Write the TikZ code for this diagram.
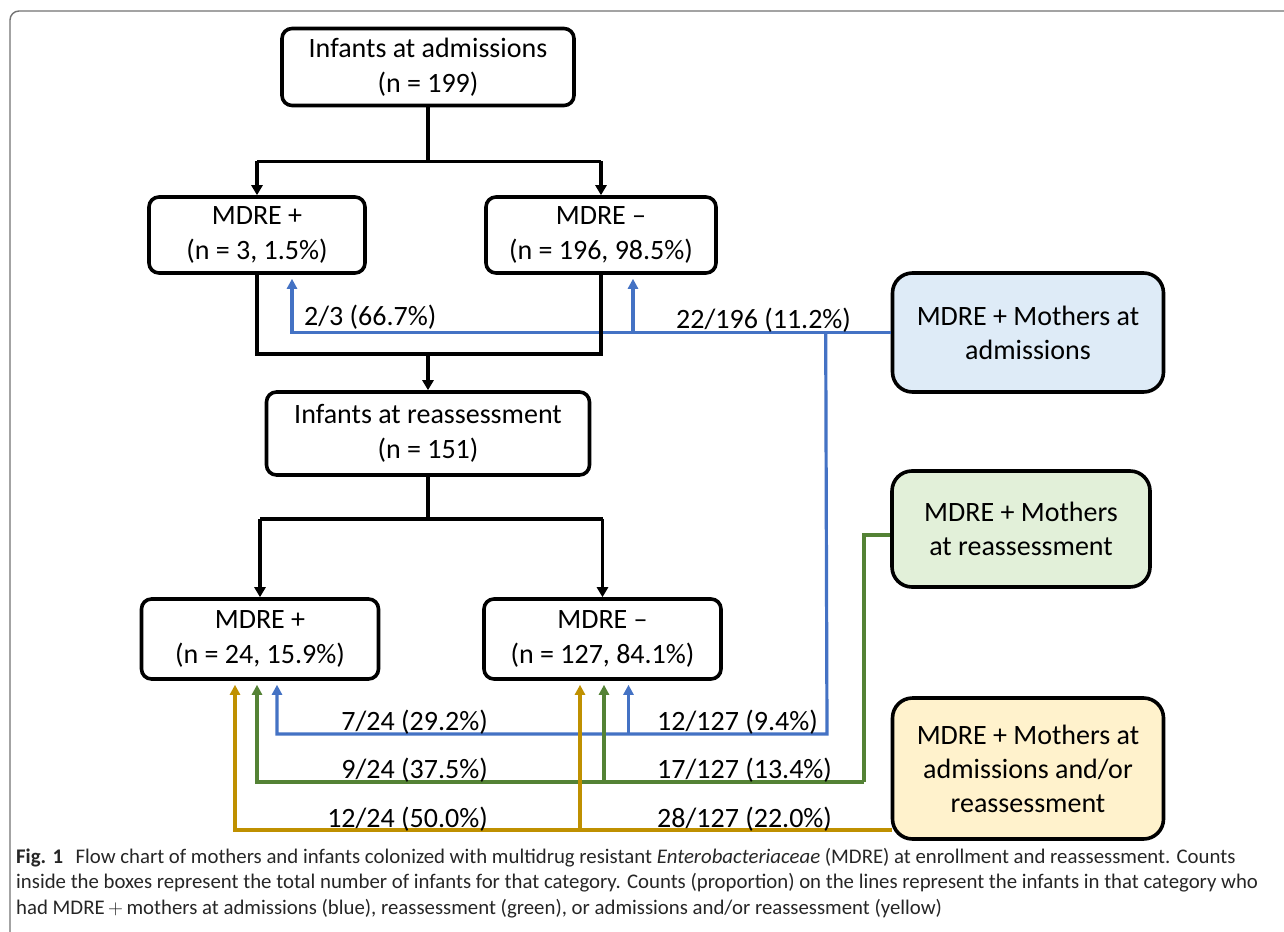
\documentclass[tikz,border=0pt]{standalone}
\usepackage{fontspec}
\setmainfont{Carlito}
\usetikzlibrary{arrows.meta, positioning}
\definecolor{admblue}{HTML}{4472C4}
\definecolor{reagreen}{HTML}{548235}
\definecolor{eithergold}{HTML}{BF9000}
\definecolor{admfill}{HTML}{DEEBF7}
\definecolor{reafill}{HTML}{E2F0D9}
\definecolor{eitherfill}{HTML}{FFF2CC}
\tikzstyle{infbox} = [rectangle, rounded corners=10pt, draw=black, line width=3.6pt, inner sep=0pt, align=center, text centered, font=\fontsize{28}{34.5}\selectfont]
\tikzstyle{mombox} = [rectangle, rounded corners=20pt, draw=black, line width=3.6pt, inner sep=0pt, align=center, text centered, font=\fontsize{28}{34}\selectfont]
\tikzstyle{conn} = [line width=3.6pt]
\tikzstyle{arrow} = [line width=3.6pt, -{Triangle[width=11pt,length=10pt]}]
\tikzstyle{carrow} = [line width=3.2pt, -{Triangle[width=10pt,length=10pt]}, shorten >=4pt]
\tikzstyle{cline} = [line width=3.2pt]
\tikzstyle{lbl} = [inner sep=0pt, font=\fontsize{28}{34}\selectfont]

\begin{document}
\begin{tikzpicture}[x=1pt, y=-1pt]
\useasboundingbox (0,0) rectangle (1284,931);
\clip (0,0) rectangle (1284,931);
\fill[white] (0,0) rectangle (1284,931);
\draw[black!55, line width=1.4pt, rounded corners=9pt] (10,11) rectangle (1320,970);

% Infant boxes
\node (adm) [infbox, minimum width=292pt, minimum height=77pt] at (428,67) {Infants at admissions\\(n = 199)};
\node (pos1) [infbox, minimum width=216pt, minimum height=76pt] at (257,235) {MDRE +\\(n = 3, 1.5\%)};
\node (neg1) [infbox, minimum width=230pt, minimum height=76pt] at (601,235) {MDRE --\\(n = 196, 98.5\%)};
\node (reass) [infbox, minimum width=323pt, minimum height=83pt] at (428,433.5) {Infants at reassessment\\(n = 151)};
\node (pos2) [infbox, minimum width=237pt, minimum height=80pt] at (260,639) {MDRE +\\(n = 24, 15.9\%)};
\node (neg2) [infbox, minimum width=237pt, minimum height=80pt] at (602.5,639) {MDRE --\\(n = 127, 84.1\%)};

% Mother boxes
\node (mom1) [mombox, fill=admfill, minimum width=271pt, minimum height=119pt] at (1028,332.5) {MDRE + Mothers at\\admissions};
\node (mom2) [mombox, fill=reafill, minimum width=258pt, minimum height=116pt] at (1021,529) {MDRE + Mothers\\at reassessment};
\node (mom3) [mombox, fill=eitherfill, minimum width=271pt, minimum height=141pt] at (1028,768.5) {MDRE + Mothers at\\admissions and/or\\reassessment};

% Blue lines (mothers at admissions)
\coordinate (bdrop) at ([xshift=-65pt]mom1.west);
\coordinate (blow) at (827,734);
\draw [carrow, admblue] (mom1.west) -| ([xshift=35pt]pos1.south);
\draw [carrow, admblue] ([xshift=32pt]neg1.south |- mom1.west) -- ([xshift=32pt]neg1.south);
\draw [carrow, admblue] (bdrop) -- (blow) -| ([xshift=17pt]pos2.south);
\draw [carrow, admblue] ([xshift=26pt]neg2.south |- blow) -- ([xshift=26pt]neg2.south);

% Green lines (mothers at reassessment)
\coordinate (gturn) at (864,535);
\coordinate (glow) at (864,782);
\draw [cline, reagreen] (mom2.west |- gturn) -- (gturn) -- (glow);
\draw [carrow, reagreen] (glow) -| ([xshift=-3pt]pos2.south);
\draw [carrow, reagreen] ([xshift=1.5pt]neg2.south |- glow) -- ([xshift=1.5pt]neg2.south);

% Yellow lines (admissions and/or reassessment)
\coordinate (ylow) at (892,830);
\draw [carrow, eithergold] (ylow) -| ([xshift=-25pt]pos2.south);
\draw [carrow, eithergold] ([xshift=-22.5pt]neg2.south |- ylow) -- ([xshift=-22.5pt]neg2.south);

% Black flow
\draw [conn] (adm.south) -- ++(0,54) coordinate (s1);
\draw [conn] (pos1.north |- s1) -- (neg1.north |- s1);
\draw [arrow] (pos1.north |- s1) -- (pos1.north);
\draw [arrow] (neg1.north |- s1) -- (neg1.north);
\draw [conn] (pos1.south) -- ++(0,79) coordinate (j1) -| (neg1.south);
\draw [arrow] (j1 -| reass.north) -- (reass.north);
\draw [conn] (reass.south) -- ++(0,42) coordinate (s2);
\draw [conn] (pos2.north |- s2) -- (neg2.north |- s2);
\draw [arrow] (pos2.north |- s2) -- (pos2.north);
\draw [arrow] (neg2.north |- s2) -- (neg2.north);

% Counts on the lines
\node (l1) [lbl, anchor=base west] at (304,325) {2/3 (66.7\%)};
\node (l2) [lbl, anchor=base west] at (676,328) {22/196 (11.2\%)};
\node (l3) [lbl, anchor=base east] at (488,730) {7/24 (29.2\%)};
\node (l4) [lbl, anchor=base west] at (657,730) {12/127 (9.4\%)};
\node (l5) [lbl, anchor=base east] at (488,778) {9/24 (37.5\%)};
\node (l6) [lbl, anchor=base west] at (657,778) {17/127 (13.4\%)};
\node (l7) [lbl, anchor=base east] at (488,827) {12/24 (50.0\%)};
\node (l8) [lbl, anchor=base west] at (657,827) {28/127 (22.0\%)};

% Caption
\node (cap) [anchor=north west, align=left, inner sep=0pt, text=black!85, font=\fontsize{20.8}{25.5}\selectfont] at (16,848) {\textbf{Fig. 1}\hspace{0.6em}Flow chart of mothers and infants colonized with multidrug resistant \textit{Enterobacteriaceae} (MDRE) at enrollment and reassessment. Counts\\inside the boxes represent the total number of infants for that category. Counts (proportion) on the lines represent the infants in that category who\\had MDRE\,$+$\,mothers at admissions (blue), reassessment (green), or admissions and/or reassessment (yellow)};
\end{tikzpicture}
\end{document}
